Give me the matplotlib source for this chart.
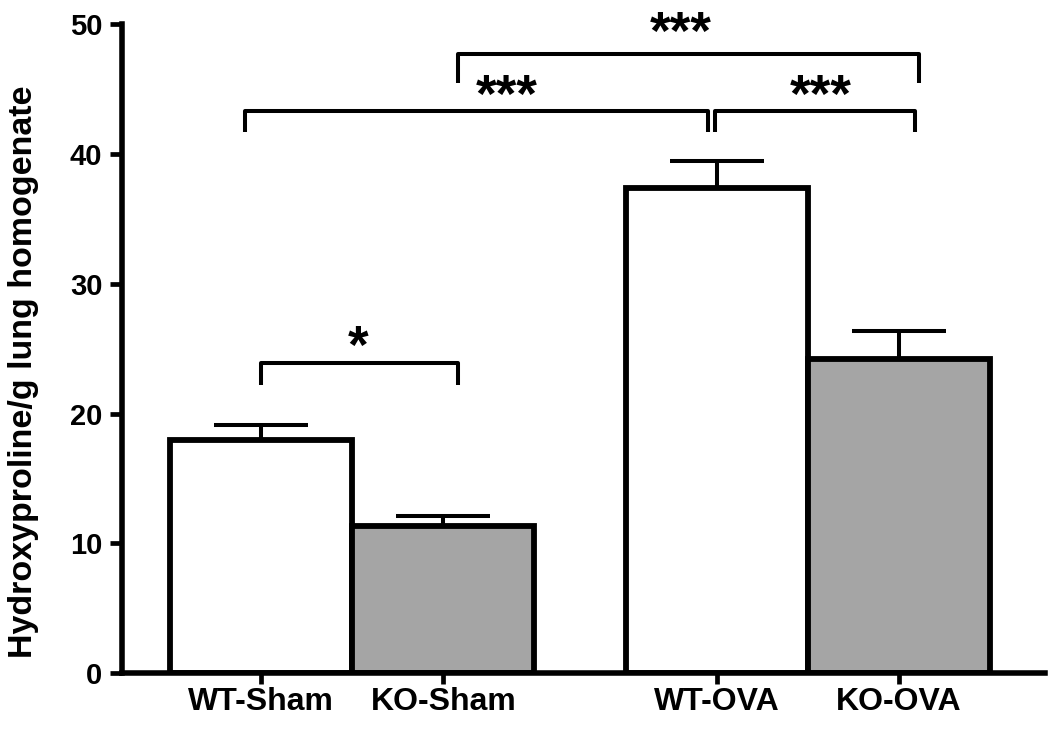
import matplotlib
matplotlib.use("Agg")
import matplotlib.pyplot as plt

categories = ["WT-Sham", "KO-Sham", "WT-OVA", "KO-OVA"]
positions = [0, 1, 2.5, 3.5]
values = [18.0, 11.3, 37.4, 24.2]
errors = [1.1, 0.8, 2.1, 2.2]
colors = ["white", "#a5a5a5", "white", "#a5a5a5"]

# significance brackets: (x1, x2, y, leg_drop, label, label_x, label_center_y)
brackets = [
    (0.0, 1.08, 23.9, 1.7, "*", 0.53, 25.85),
    (-0.09, 2.45, 43.3, 1.6, "***", 1.35, 45.2),
    (2.49, 3.59, 43.3, 1.6, "***", 3.07, 45.2),
    (1.08, 3.61, 47.7, 2.2, "***", 2.30, 50.1),
]

plt.rcParams['font.family'] = ['Liberation Sans', 'DejaVu Sans']
fig = plt.figure(figsize=(10.5, 7.32), dpi=100)
ax = fig.add_axes([0.116, 0.0806, 0.879, 0.886])

ax.bar(positions, values, width=1.0, color=colors, edgecolor="black",
       linewidth=4.2, zorder=2)
ax.errorbar(positions, values, yerr=[[0]*4, errors], fmt="none",
            ecolor="black", elinewidth=2.9, capsize=34, capthick=2.9, zorder=1)

star_fs = 38
for x1, x2, y, d, lab, lx, ly in brackets:
    ax.plot([x1, x1, x2, x2], [y - d, y, y, y - d], color="black",
            linewidth=2.9, solid_capstyle="butt", clip_on=False)
    ax.annotate(lab, (lx, ly), xytext=(0, -0.485 * star_fs),
                textcoords="offset points", ha="center", va="baseline",
                fontsize=star_fs, fontweight="bold", annotation_clip=False)

ax.set_xlim(-0.764, 4.30)
ax.set_ylim(0, 50)
ax.set_yticks([0, 10, 20, 30, 40, 50])
ax.set_xticks(positions)
ax.set_xticklabels(categories, fontsize=23, fontweight="bold")
for t in ax.get_yticklabels():
    t.set_fontsize(21)
    t.set_fontweight("bold")
ax.tick_params(axis="y", length=9, width=3.4, pad=5)
ax.tick_params(axis="x", length=8, width=3.4, pad=2)
ax.set_ylabel("Hydroxyproline/g lung homogenate", fontsize=24.5,
              fontweight="bold", va="center")
ax.yaxis.set_label_coords(-0.106, 0.464)

for s in ["top", "right"]:
    ax.spines[s].set_visible(False)
for s in ["left", "bottom"]:
    ax.spines[s].set_linewidth(4.0)

fig.savefig("out.png", dpi=100, facecolor="white")
